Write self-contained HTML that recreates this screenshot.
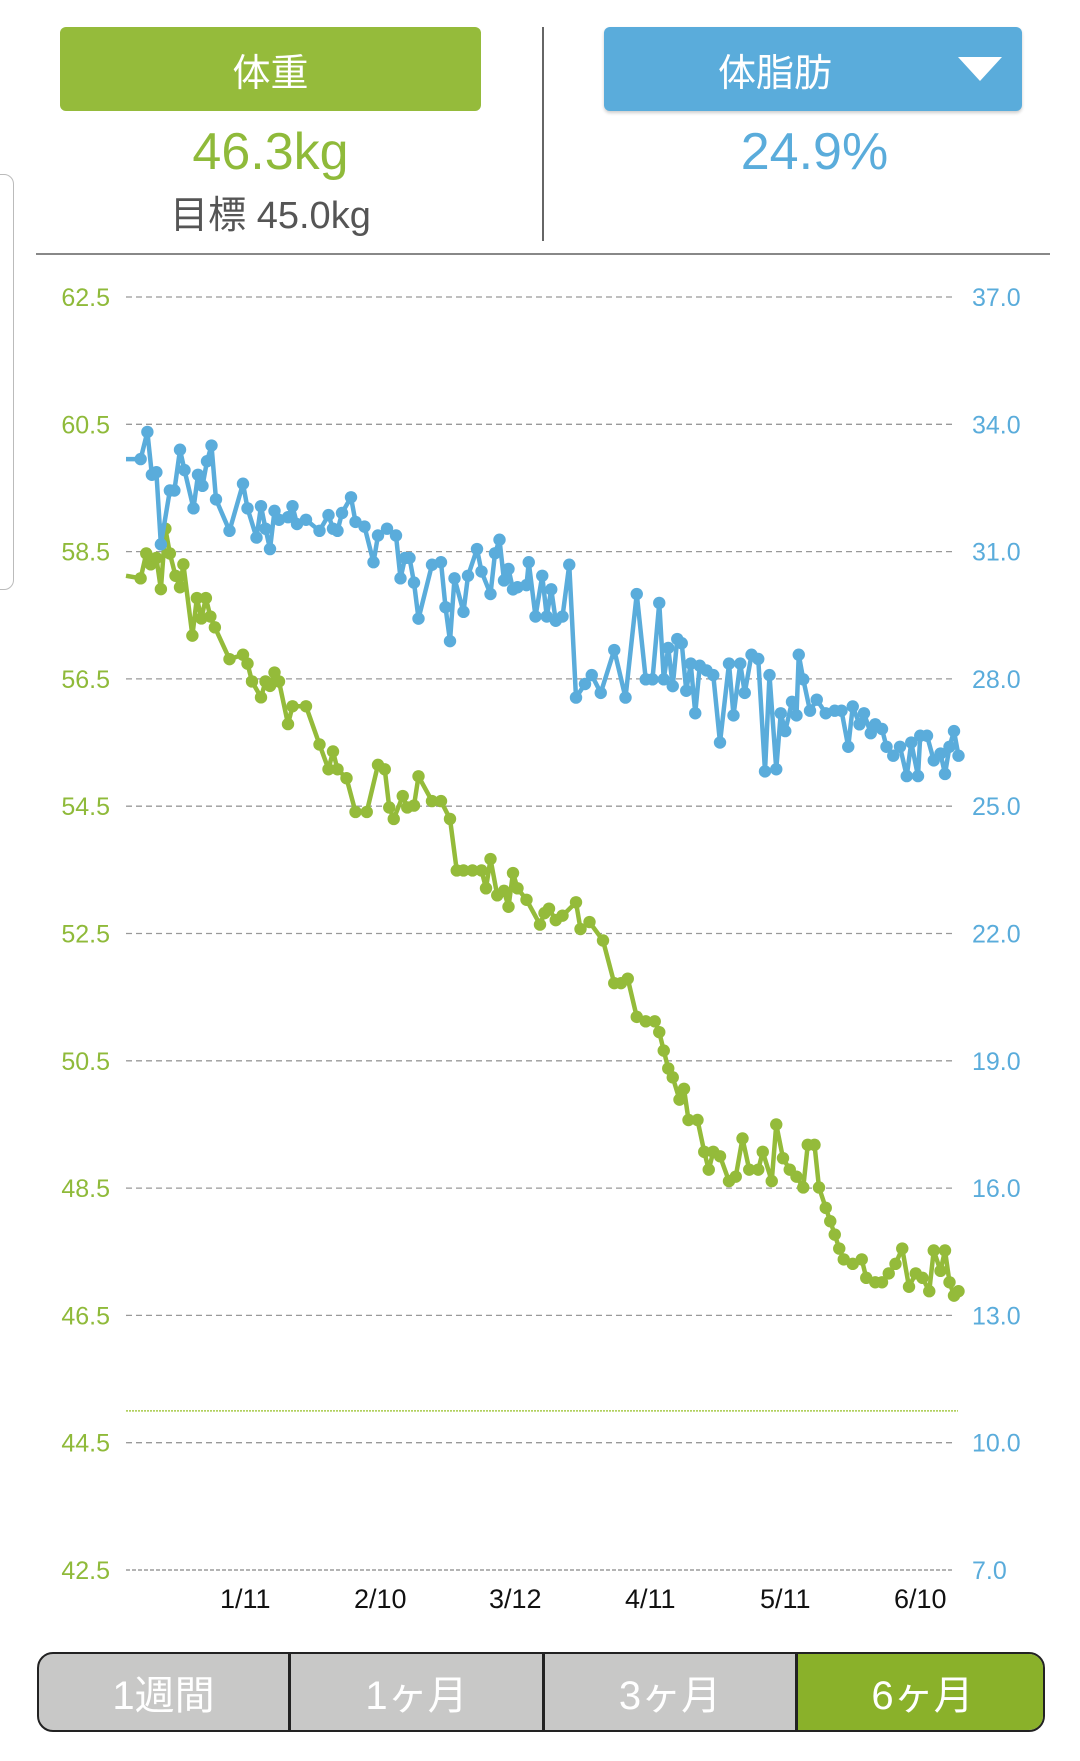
<!DOCTYPE html>
<html><head><meta charset="utf-8">
<style>
html,body{margin:0;padding:0;background:#fff;}
body{width:1080px;height:1761px;position:relative;overflow:hidden;font-family:"Liberation Sans","Noto Sans CJK JP",sans-serif;}
.abs{position:absolute;}
.btn{border-radius:6px;color:#fff;font-size:38px;display:flex;align-items:center;justify-content:center;box-sizing:border-box;}
.seg{position:absolute;top:0;height:100%;display:flex;align-items:center;justify-content:center;color:#fff;font-size:40px;}
</style></head>
<body>
<div class="abs" style="left:-10px;top:174px;width:22px;height:414px;border:1.5px solid #bbb;border-radius:10px;"></div>
<div class="abs btn" style="left:60px;top:27px;width:421px;height:84px;background:#95bb3b;">体重</div>
<div class="abs btn" style="left:604px;top:27px;width:418px;height:84px;background:#5aacdb;box-shadow:0 2px 3px rgba(0,0,0,0.2);padding-right:76px;">体脂肪
<div style="position:absolute;right:20px;top:30px;width:0;height:0;border-left:22px solid transparent;border-right:22px solid transparent;border-top:24px solid #fff;"></div></div>
<div class="abs" style="left:60px;width:421px;top:122px;text-align:center;font-size:52px;color:#8fba3a;">46.3kg</div>
<div class="abs" style="left:60px;width:421px;top:184px;text-align:center;font-size:38px;color:#555;">目標 45.0kg</div>
<div class="abs" style="left:604px;width:421px;top:122px;text-align:center;font-size:52px;color:#5aacdb;">24.9%</div>
<div class="abs" style="left:542px;top:27px;width:1.5px;height:214px;background:#666;"></div>
<div class="abs" style="left:36px;top:253px;width:1014px;height:2px;background:#888;"></div>

<svg class="abs" id="chart" style="left:0;top:0" width="1080" height="1761"></svg>

<div class="abs" style="left:37px;top:1652px;width:1008px;height:80px;border:2.5px solid #222;border-radius:16px;overflow:hidden;background:#c8c8c7;box-sizing:border-box;">
<div class="seg" style="left:0;width:252px;border-right:3px solid #222;box-sizing:border-box;">1週間</div>
<div class="seg" style="left:252px;width:254px;border-right:3px solid #222;box-sizing:border-box;">1ヶ月</div>
<div class="seg" style="left:506px;width:253px;border-right:3px solid #222;box-sizing:border-box;">3ヶ月</div>
<div class="seg" style="left:759px;width:249px;background:#8ab12a;">6ヶ月</div>
</div>

<script>
const weightTicks = ["62.5","60.5","58.5","56.5","54.5","52.5","50.5","48.5","46.5","44.5","42.5"];
const fatTicks = ["37.0","34.0","31.0","28.0","25.0","22.0","19.0","16.0","13.0","10.0","7.0"];
const dateLabels = ["1/11","2/10","3/12","4/11","5/11","6/10"];
const dateDays = [26.5,56.5,86.5,116.5,146.5,176.5];
const goalWeight = 45.0;
const weightDays = [0,3.25,4.5,5.5,6.75,7.75,8.75,9.75,11,12,12.75,14.75,15.75,16.75,17.75,18.75,19.75,23,26,27,28,30,31,32,33,34,36,37,40,43,45,46,47,49,51,53.5,56,57.5,58.5,59.5,61.5,62.5,64,65,68,70,72,73.5,75,77,79,80,81,82.5,84,85,86,87,89,92,93,94,95.5,97,100,101,103,106,108.5,110,111.5,113.5,115.5,117.5,118.5,119.5,120.5,121.5,123,124,125,127,128.5,129.5,130.5,132,134,135.5,137,138.5,140.5,141.5,143.5,144.5,146,147.5,149,150.5,151.5,153,154,155.5,156.5,157.5,158.5,159.5,161.5,163.5,164.5,166.5,168,169.5,171,172.5,174,175.5,177,178.5,179.5,181,182,183,184,185];
const weightValues = [58.12,58.08,58.47,58.30,58.40,57.91,58.86,58.47,58.12,57.94,58.30,57.18,57.77,57.45,57.77,57.48,57.31,56.81,56.88,56.74,56.46,56.21,56.46,56.39,56.60,56.46,55.79,56.07,56.07,55.47,55.08,55.36,55.08,54.94,54.41,54.41,55.15,55.08,54.48,54.30,54.66,54.48,54.51,54.97,54.58,54.58,54.30,53.49,53.49,53.49,53.49,53.21,53.67,53.10,53.17,52.92,53.45,53.21,53.03,52.64,52.82,52.89,52.71,52.78,52.99,52.57,52.68,52.39,51.72,51.72,51.79,51.19,51.12,51.12,50.95,50.66,50.38,50.24,49.89,50.06,49.57,49.57,49.07,48.79,49.07,49.00,48.61,48.68,49.28,48.79,48.79,49.07,48.61,49.50,48.97,48.79,48.68,48.51,49.18,49.18,48.51,48.19,47.98,47.77,47.55,47.38,47.31,47.38,47.09,47.02,47.02,47.16,47.31,47.55,46.95,47.16,47.09,46.88,47.52,47.20,47.52,47.02,46.81,46.88];
const fatDays = [0,3.25,4.75,5.75,6.75,7.75,9.75,10.75,12,13,15,16,17,18,19,20,23,26,27,29,30,31,32,33,34,36,37,38,40,43,45,46,47,48,50,51,53,55,56,58,60,61,62,63,64,65,68,70,71,72,73,75,76,78,79,81,82,83,84,85,86,87,89,89.5,91,92.5,93.5,94.5,95.5,97,98.5,100,102,103.5,105.5,108.5,111,113.5,115.5,117,118.5,119.5,120.5,121.5,122.5,123.5,124.5,125.5,126.5,127.5,129,130.5,132,134,135,136.5,137.5,139,140.5,142,143,144.5,145.5,146.5,148,149,149.5,150.5,152,153.5,155.5,157.5,159,160.5,161.5,163,164,165.5,166.5,168,169,170.5,172,173.5,174.5,176,176.5,178,179.5,181,182,183,184,185];
const fatValues = [33.18,33.18,33.82,32.81,32.87,31.17,32.44,32.44,33.40,32.92,32.02,32.81,32.55,33.13,33.50,32.23,31.49,32.60,32.02,31.33,32.07,31.54,31.06,31.96,31.75,31.81,32.07,31.65,31.75,31.49,31.86,31.54,31.49,31.91,32.28,31.70,31.59,30.75,31.38,31.54,31.38,30.37,30.85,30.85,30.27,29.42,30.69,30.75,29.69,28.89,30.37,29.58,30.43,31.06,30.53,30.00,30.96,31.28,30.32,30.59,30.11,30.16,30.21,30.75,29.47,30.43,29.47,30.11,29.37,29.47,30.69,27.56,27.88,28.09,27.67,28.68,27.56,30.00,27.99,27.99,29.79,27.99,28.73,27.83,28.94,28.84,27.72,28.36,27.19,28.31,28.20,28.09,26.50,28.36,27.14,28.36,27.67,28.57,28.47,25.82,28.09,25.87,27.19,26.77,27.46,27.14,28.57,27.99,27.25,27.51,27.19,27.25,27.25,26.40,27.35,26.93,27.19,26.72,26.93,26.82,26.40,26.19,26.40,25.71,26.50,25.71,26.66,26.66,26.08,26.24,25.76,26.40,26.77,26.19];

const NS="http://www.w3.org/2000/svg";
const svg=document.getElementById('chart');
const X0=126, PXDAY=4.5, YTOP=297, GRID=127.3;
const xDay=d=>X0+d*PXDAY;
const yW=v=>YTOP+(62.5-v)/2*GRID;
const yF=v=>YTOP+(37-v)/3*GRID;
function mk(tag,attrs){const e=document.createElementNS(NS,tag);for(const k in attrs)e.setAttribute(k,attrs[k]);svg.appendChild(e);return e;}

weightTicks.forEach((t,i)=>{
  const y=yW(parseFloat(t));
  const g=mk('line',{x1:126,x2:954,y1:y,y2:y,stroke:i==weightTicks.length-1?'#888':'#999','stroke-width':1.3,'stroke-dasharray':i==weightTicks.length-1?'4 2':'6 4'});
  
  
  const l=mk('text',{x:110,y:y+9,'text-anchor':'end','font-size':25,fill:'#8fba3a','font-family':'Liberation Sans, sans-serif'});
  l.textContent=t;
  
  
});
fatTicks.forEach((t,i)=>{
  const y=yF(parseFloat(t));
  const l=mk('text',{x:972,y:y+9,'text-anchor':'start','font-size':25,fill:'#5aacdb','font-family':'Liberation Sans, sans-serif'});
  l.textContent=t;
  
  
});
dateLabels.forEach((t,i)=>{
  const l=mk('text',{x:xDay(dateDays[i]),y:1608,'text-anchor':'middle','font-size':27,fill:'#111','font-family':'Liberation Sans, sans-serif'});
  l.textContent=t;
  
  
});
const gl=mk('line',{x1:126,x2:958,y1:yW(goalWeight),y2:yW(goalWeight),stroke:'#a8c94a','stroke-width':1.5,'stroke-dasharray':'2 1'});



function series(days,vals,yf,color,name){
  const pts=days.map((d,i)=>xDay(d)+','+yf(vals[i])).join(' ');
  const p=mk('polyline',{points:pts,fill:'none',stroke:color,'stroke-width':4.5,'stroke-linejoin':'round'});
  
  
  days.forEach((d,i)=>{
    if(i===0)return;
    const c=mk('circle',{cx:xDay(d),cy:yf(vals[i]),r:6.2,fill:color});
    
    
  });
}
series(weightDays,weightValues,yW,'#94bb3a','weight');
series(fatDays,fatValues,yF,'#5aacdb','body-fat');
</script>
</body></html>
